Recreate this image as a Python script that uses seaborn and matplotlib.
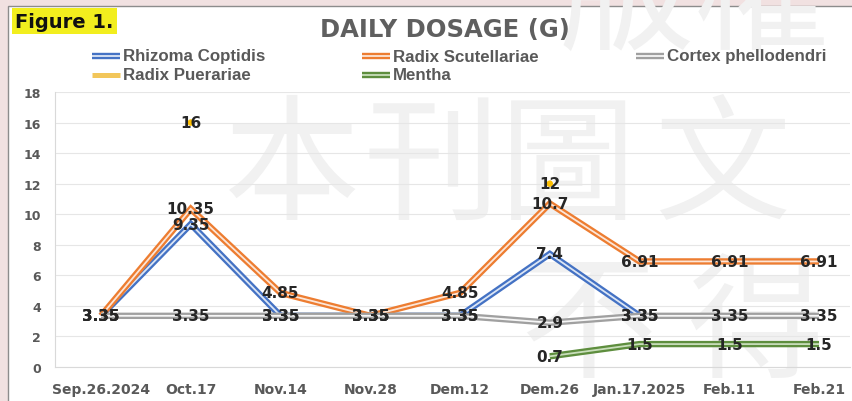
import numpy as np
import pandas as pd
import matplotlib
matplotlib.use("Agg")
import matplotlib.pyplot as plt
import matplotlib.patheffects as pe
from matplotlib.lines import Line2D
from matplotlib.patches import Rectangle
import seaborn as sns

# ---------------- data ----------------
dates = ["Sep.26.2024", "Oct.17", "Nov.14", "Nov.28", "Dem.12",
         "Dem.26", "Jan.17.2025", "Feb.11", "Feb.21"]
coptidis = [3.35, 9.35, 3.35, 3.35, 3.35, 7.4, 3.35, np.nan, np.nan]
scutellariae = [3.35, 10.35, 4.85, 3.35, 4.85, 10.7, 6.91, 6.91, 6.91]
phellodendri = [3.35, 3.35, 3.35, 3.35, 3.35, 2.9, 3.35, 3.35, 3.35]
puerariae = [np.nan, 16, np.nan, np.nan, np.nan, 12, np.nan, np.nan, np.nan]
mentha = [np.nan, np.nan, np.nan, np.nan, np.nan, 0.7, 1.5, 1.5, 1.5]
yticks = [0, 2, 4, 6, 8, 10, 12, 14, 16, 18]

W, H = 852, 402
sns.set_theme(style="white")
plt.rcParams["font.family"] = ["DejaVu Sans"]

fig = plt.figure(figsize=(W / 100, H / 100), dpi=100)
fig.patch.set_facecolor("#F1E1E1")

def fx(px):
    return px / W

def fy(py):
    return 1 - py / H

# white panel with border
panel = Rectangle((fx(8), -0.01), 1.1, fy(7) + 0.01, transform=fig.transFigure,
                  facecolor="white", edgecolor="#8C8C8C", lw=1.0, zorder=-3)
fig.add_artist(panel)

# watermark
wm_kw = dict(fontsize=98, color="#F1F1F1", family=["Noto Sans CJK TC", "DejaVu Sans"],
             ha="center", va="center", zorder=-2)
for ch, xx, yy in [("本", 292, 170), ("刊", 432, 170), ("圖", 568, 170), ("文", 722, 170),
                   ("版", 625, 0), ("權", 762, 0),
                   ("不", 588, 328), ("得", 756, 328)]:
    fig.text(fx(xx), fy(yy), ch, **wm_kw)

# ---------------- axes ----------------
ax = fig.add_axes([fx(55), fy(368), fx(850) - fx(55), (368 - 93) / H])
ax.set_facecolor("none")

x = np.arange(len(dates))
series = [
    ("Rhizoma Coptidis", coptidis, "#4472C4", "#DCE6F5", 2.0),
    ("Radix Scutellariae", scutellariae, "#ED7D31", "#FCE6D8", 2.1),
    ("Cortex phellodendri", phellodendri, "#A0A0A0", "#F6F6F6", 2.2),
    ("Radix Puerariae", puerariae, "#FFC000", "#FFE699", 2.3),
    ("Mentha", mentha, "#5E8E3E", "#C9DEBB", 2.4),
]

def dbl(outer):
    return [pe.Stroke(linewidth=4.6, foreground=outer), pe.Normal()]

for name, vals, outer, inner, z in series:
    df = pd.DataFrame({"x": x, "y": vals}).dropna()
    n_before = len(ax.lines)
    if name == "Radix Puerariae":
        sns.scatterplot(data=df, x="x", y="y", ax=ax, color="#FFC000", s=22,
                        edgecolor="none", zorder=3, legend=False)
    else:
        sns.lineplot(data=df, x="x", y="y", ax=ax, color=inner, lw=1.3,
                     estimator=None, errorbar=None, sort=False,
                     path_effects=dbl(outer), legend=False)
        for ln in ax.lines[n_before:]:
            ln.set_zorder(z)
            ln.set_snap(False)
            ln.set_solid_capstyle("butt")
            ln.set_solid_joinstyle("miter")

for name, vals, outer, inner, z in series:
    for xi, v in zip(x, vals):
        if not np.isnan(v):
            ax.text(xi, v, f"{v:g}", ha="center", va="center", fontsize=11,
                    fontweight="bold", color="#262626", zorder=5)

ax.set_xlim(-0.513, 8.345)
ax.set_ylim(0, 18)
ax.set_xticks(x)
ax.set_xticklabels(dates, fontsize=10, color="#595959", fontweight="bold",
                   family=["DejaVu Sans Condensed", "DejaVu Sans"])
ax.set_yticks(yticks)
ax.set_yticklabels([str(t) for t in yticks], fontsize=9, color="#595959",
                   fontweight="bold")
ax.tick_params(axis="x", length=0, pad=11)
ax.tick_params(axis="y", length=0, pad=10)
ax.set_xlabel("")
ax.set_ylabel("")
ax.grid(axis="y", color="#E6E6E6", lw=0.8)
ax.grid(axis="x", visible=False)
for s in ["top", "right"]:
    ax.spines[s].set_visible(False)
for s in ["left", "bottom"]:
    ax.spines[s].set_color("#D9D9D9")
    ax.spines[s].set_linewidth(0.8)

# ---------------- title & figure label ----------------
fig.text(fx(445), fy(30), "DAILY DOSAGE (G)", ha="center", va="center",
         fontsize=17.5, fontweight="bold", color="#5F5F5F")
fig.text(fx(15), fy(22), "Figure 1.", ha="left", va="center", fontsize=14,
         fontweight="bold", color="#111111",
         bbox=dict(facecolor="#F2EE1E", edgecolor="none", pad=2.5))

# ---------------- legend (manual) ----------------
leg_pos = {
    "Rhizoma Coptidis": (92, 57),
    "Radix Puerariae": (92, 76),
    "Radix Scutellariae": (362, 57),
    "Mentha": (362, 76),
    "Cortex phellodendri": (636, 57),
}
for name, vals, outer, inner, z in series:
    lx, ly = leg_pos[name]
    if name == "Radix Puerariae":
        ln = Line2D([fx(lx), fx(lx + 28)], [fy(ly), fy(ly)], transform=fig.transFigure,
                    color="#F2C65A", lw=3.6, solid_capstyle="butt")
    else:
        ln = Line2D([fx(lx), fx(lx + 28)], [fy(ly), fy(ly)], transform=fig.transFigure,
                    color=inner, lw=1.3, path_effects=dbl(outer), solid_capstyle="butt")
    fig.add_artist(ln)
    fig.text(fx(lx + 31), fy(ly), name, ha="left", va="center", fontsize=12.2,
             fontweight="bold", color="#595959",
             family=["Liberation Sans", "DejaVu Sans"])

fig.savefig("out.png", dpi=100)
